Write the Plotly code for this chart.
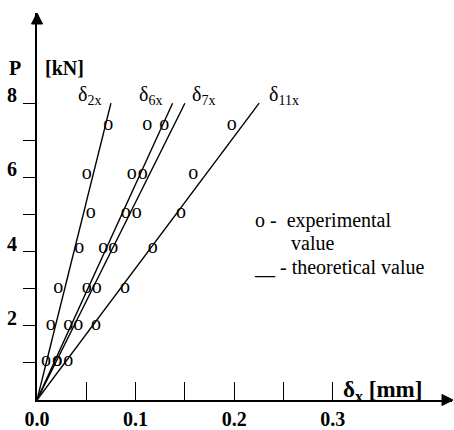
import plotly.graph_objects as go

# ---------------- data ----------------
P_LEVELS = [1.10, 2.08, 3.07, 4.16, 5.11, 6.15, 7.47]          # load P [kN]
D2X = [0.0091, 0.0139, 0.0216, 0.0429, 0.0545, 0.0504, 0.0723]  # experimental δ2x [mm]
D6X = [0.0206, 0.0317, 0.0504, 0.0672, 0.0900, 0.0960, 0.1119]  # experimental δ6x [mm]
D7X = [0.0206, 0.0419, 0.0605, 0.0774, 0.1011, 0.1072, 0.1291]  # experimental δ7x [mm]
D11X = [0.0317, 0.0598, 0.0892, 0.1173, 0.1460, 0.1585, 0.1975] # experimental δ11x [mm]

THEORY_P = [0.0, 8.0]
THEORY_2X = [0.0, 0.075]
THEORY_6X = [0.0, 0.1375]
THEORY_7X = [0.0, 0.150]
THEORY_11X = [0.0, 0.2253]

SERIES_NAMES = ["δ<sub>2x</sub>", "δ<sub>6x</sub>", "δ<sub>7x</sub>", "δ<sub>11x</sub>"]

X_TICKS = [0.0, 0.10, 0.20, 0.30]
X_TICK_TEXT = ["0.0", "0.1", "0.2", "0.3"]
X_MINOR_TICKS = [0.05, 0.15, 0.25]
Y_TICKS = [2, 4, 6, 8]
Y_TICK_TEXT = ["2", "4", "6", "8"]
Y_MINOR_TICKS = [1, 3, 5, 7]

# ---------------- geometry / style ----------------
W, H = 454, 430
ML, MR, MT, MB = 37, 2, 13, 30
PW, PH = W - ML - MR, H - MT - MB
PX_PER_X = 986.0     # pixels per 1 mm
PX_PER_Y = 37.1      # pixels per 1 kN
X_RANGE = [0, PW / PX_PER_X]
Y_RANGE = [0, PH / PX_PER_Y]
SERIF = "Liberation Serif, Times New Roman, serif"
GLYPH_SHIFT = -2.2 / PX_PER_Y   # centre the 'o' glyph on its value


def paper_x(px):
    return (px - ML) / PW


def paper_y(py):
    return (H - MB - py) / PH


fig = go.Figure()

theory = [THEORY_2X, THEORY_6X, THEORY_7X, THEORY_11X]
exper = [D2X, D6X, D7X, D11X]

for name, tx in zip(SERIES_NAMES, theory):
    fig.add_trace(go.Scatter(x=tx, y=THEORY_P, mode="lines",
                             line=dict(color="black", width=1.4),
                             name=name, showlegend=False, hoverinfo="skip"))

for name, ex in zip(SERIES_NAMES, exper):
    fig.add_trace(go.Scatter(x=ex, y=[p + GLYPH_SHIFT for p in P_LEVELS],
                             mode="text", text=["o"] * len(ex),
                             textposition="middle center",
                             textfont=dict(family=SERIF, size=20, color="black"),
                             cliponaxis=False, name=name, showlegend=False))

annotations = []
# curve labels
label_pos = [(76, 96), (137, 96), (190, 96), (267, 96)]
for name, (lx, ly) in zip(SERIES_NAMES, label_pos):
    annotations.append(dict(x=paper_x(lx), y=paper_y(ly), xref="paper", yref="paper",
                            text=name, showarrow=False, xanchor="left", yanchor="middle",
                            font=dict(family=SERIF, size=20, color="black")))

# axis titles
annotations.append(dict(x=paper_x(15), y=paper_y(68), xref="paper", yref="paper",
                        text="<b>P</b>", showarrow=False, xanchor="center", yanchor="middle",
                        font=dict(family=SERIF, size=20, color="black")))
annotations.append(dict(x=paper_x(43), y=paper_y(68), xref="paper", yref="paper",
                        text="<b>[kN]</b>", showarrow=False, xanchor="left", yanchor="middle",
                        font=dict(family=SERIF, size=20, color="black")))
annotations.append(dict(x=paper_x(341), y=paper_y(391), xref="paper", yref="paper",
                        text="<b>δ<sub>x</sub> [mm]</b>", showarrow=False,
                        xanchor="left", yanchor="middle",
                        font=dict(family=SERIF, size=23, color="black")))

# legend text
annotations.append(dict(x=paper_x(253), y=paper_y(220), xref="paper", yref="paper",
                        text="o\u00a0-\u00a0\u00a0experimental", showarrow=False,
                        xanchor="left", yanchor="middle",
                        font=dict(family=SERIF, size=20, color="black")))
annotations.append(dict(x=paper_x(289), y=paper_y(243), xref="paper", yref="paper",
                        text="value", showarrow=False, xanchor="left", yanchor="middle",
                        font=dict(family=SERIF, size=20, color="black")))
annotations.append(dict(x=paper_x(252), y=paper_y(267), xref="paper", yref="paper",
                        text="__ - theoretical value", showarrow=False,
                        xanchor="left", yanchor="middle",
                        font=dict(family=SERIF, size=20, color="black")))

# arrow heads
ah_len, ah_half = 11, 5.5
shapes = [
    dict(type="path", xref="paper", yref="paper",
         path=(f"M {paper_x(ML)} {paper_y(MT)} "
               f"L {paper_x(ML - ah_half)} {paper_y(MT + ah_len)} "
               f"L {paper_x(ML + ah_half)} {paper_y(MT + ah_len)} Z"),
         fillcolor="black", line=dict(color="black", width=1)),
    dict(type="path", xref="paper", yref="paper",
         path=(f"M {paper_x(W - 1)} {paper_y(H - MB)} "
               f"L {paper_x(W - 1 - ah_len)} {paper_y(H - MB - ah_half)} "
               f"L {paper_x(W - 1 - ah_len)} {paper_y(H - MB + ah_half)} Z"),
         fillcolor="black", line=dict(color="black", width=1)),
]

fig.update_layout(
    width=W, height=H,
    margin=dict(l=ML, r=MR, t=MT, b=MB, pad=0, autoexpand=False),
    paper_bgcolor="white", plot_bgcolor="white",
    showlegend=False,
    annotations=annotations,
    shapes=shapes,
    xaxis=dict(range=X_RANGE, showgrid=False, zeroline=False, automargin=False,
               showline=True, linecolor="black", linewidth=2.2,
               tickmode="array", tickvals=X_TICKS, ticktext=X_TICK_TEXT,
               ticks="inside", ticklen=18, tickwidth=1.4, tickcolor="black",
               minor=dict(tickmode="array", tickvals=X_MINOR_TICKS, ticks="inside",
                          ticklen=18, tickwidth=1.4, tickcolor="black", showgrid=False),
               ticklabelstandoff=0,
               tickfont=dict(family=SERIF, size=20, color="black", weight="bold"),
               fixedrange=True),
    yaxis=dict(range=Y_RANGE, showgrid=False, zeroline=False, automargin=False,
               showline=True, linecolor="black", linewidth=2.2,
               tickmode="array", tickvals=Y_TICKS, ticktext=Y_TICK_TEXT,
               ticks="outside", ticklen=12, tickwidth=1.4, tickcolor="black",
               minor=dict(tickmode="array", tickvals=Y_MINOR_TICKS, ticks="outside",
                          ticklen=12, tickwidth=1.4, tickcolor="black", showgrid=False),
               ticklabelshift=-8, ticklabelstandoff=2,
               tickfont=dict(family=SERIF, size=20, color="black", weight="bold"),
               fixedrange=True),
)

fig.write_html("out.html", config={"displayModeBar": False})
